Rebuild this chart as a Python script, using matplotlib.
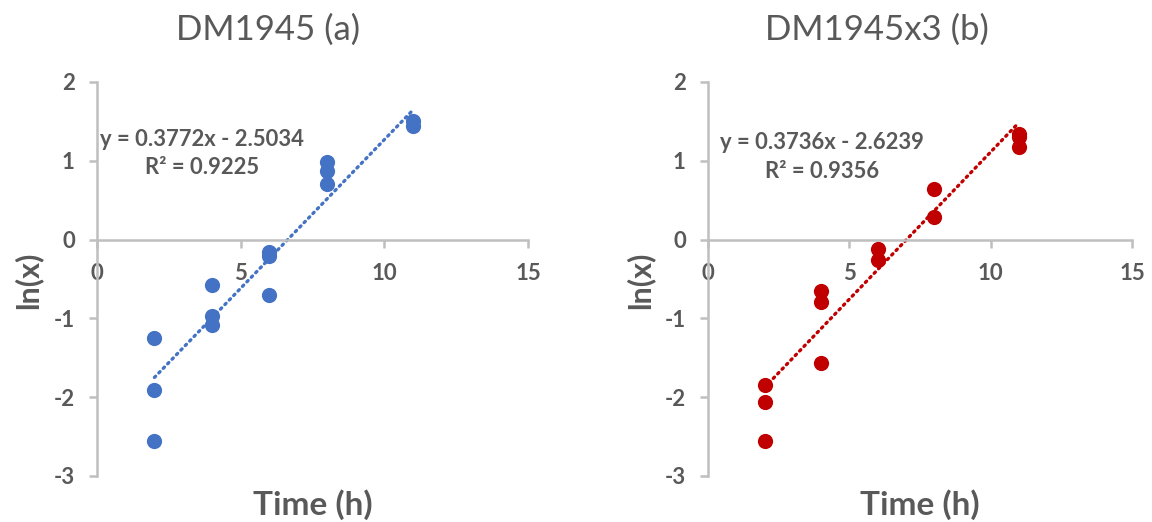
import matplotlib
matplotlib.use("Agg")
import matplotlib.pyplot as plt
import numpy as np

plt.rcParams['font.family'] = ['Lato', 'DejaVu Sans']

# ---- data ----
titles = ["DM1945 (a)", "DM1945x3 (b)"]
colors = ["#4472C4", "#C00000"]

time_a = [2, 2, 2, 4, 4, 4, 6, 6, 6, 8, 8, 8, 11, 11]
lnx_a = [-1.25, -1.91, -2.55, -0.58, -0.97, -1.08, -0.16, -0.21, -0.70, 0.99, 0.87, 0.70, 1.50, 1.44]

time_b = [2, 2, 2, 4, 4, 4, 6, 6, 8, 8, 11, 11, 11]
lnx_b = [-1.85, -2.06, -2.55, -0.65, -0.79, -1.57, -0.12, -0.26, 0.64, 0.29, 1.34, 1.30, 1.17]

slopes = [0.3772, 0.3736]
intercepts = [-2.5034, -2.6239]
r2 = ["0.9225", "0.9356"]

xticks = [0, 5, 10, 15]
yticks = [-3, -2, -1, 0, 1, 2]

W, H = 1152, 522
fig = plt.figure(figsize=(W / 100, H / 100), dpi=100)

axes_px = [(97, 528), (708, 1132)]
top_px, bot_px = 82, 476
eq_pos = [(202, 139, 168), (822, 142, 171)]
title_x = [268, 877]
ylab_x = [28, 640]
grey_axis = "#BFBFBF"
grey_txt = "#595959"

datasets = [(time_a, lnx_a), (time_b, lnx_b)]
for i, ((x0, x1), (tx, ty)) in enumerate(zip(axes_px, datasets)):
    ax = fig.add_axes([x0 / W, 1 - bot_px / H, (x1 - x0) / W, (bot_px - top_px) / H])
    ax.set_xlim(0, 15)
    ax.set_ylim(-3, 2)
    ax.patch.set_alpha(0)
    ax.scatter(tx, ty, s=120, color=colors[i], zorder=3, linewidths=0)
    xs = np.array([min(tx), max(tx)])
    ax.plot(xs, slopes[i] * xs + intercepts[i], color=colors[i], lw=2.4,
            linestyle=(0, (0.5, 1.4)), dash_capstyle='round', zorder=2)
    for s in ["top", "right"]:
        ax.spines[s].set_visible(False)
    ax.spines["left"].set_position(("data", 0))
    ax.spines["bottom"].set_position(("data", 0))
    for s in ["left", "bottom"]:
        ax.spines[s].set_color(grey_axis)
        ax.spines[s].set_linewidth(1.8)
    ax.set_xticks(xticks)
    ax.set_yticks(yticks)
    ax.set_xticklabels([str(v) for v in xticks])
    ax.set_yticklabels([str(v) for v in yticks])
    ax.tick_params(axis="both", direction="out", length=6, width=1.8, color=grey_axis,
                   labelcolor=grey_txt, labelsize=16)
    ax.tick_params(axis="y", pad=10)
    ax.tick_params(axis="x", pad=11)
    for lab in ax.get_xticklabels() + ax.get_yticklabels():
        lab.set_fontweight("bold")
    xc = (x0 + x1) / 2
    fig.text(title_x[i] / W, 1 - 30 / H, titles[i], ha="center", va="center",
             fontsize=25, color=grey_txt)
    fig.text(xc / W, 1 - 505 / H, "Time (h)", ha="center", va="center",
             fontsize=24, fontweight="bold", color=grey_txt)
    fig.text(ylab_x[i] / W, 1 - 280 / H, "ln(x)", ha="center", va="center",
             rotation=90, fontsize=22, fontweight="bold", color=grey_txt)
    ex, ey1, ey2 = eq_pos[i]
    sign = "-" if intercepts[i] < 0 else "+"
    fig.text(ex / W, 1 - ey1 / H, f"y = {slopes[i]:.4f}x {sign} {abs(intercepts[i]):.4f}",
             ha="center", va="center", fontsize=15.8, fontweight="bold", color=grey_txt)
    fig.text(ex / W, 1 - ey2 / H, f"R² = {r2[i]}",
             ha="center", va="center", fontsize=15.8, fontweight="bold", color=grey_txt)

fig.savefig("out.png", dpi=100)
